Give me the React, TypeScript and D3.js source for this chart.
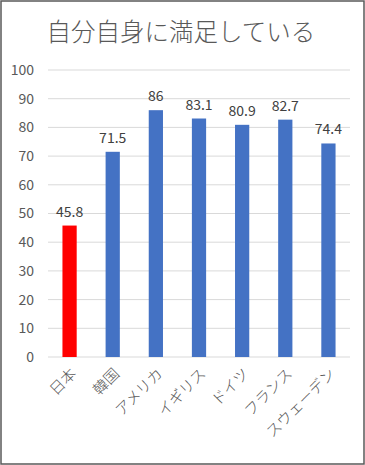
import { useEffect, useRef } from 'react';
import * as d3 from 'd3';

const countries = ['日本', '韓国', 'アメリカ', 'イギリス', 'ドイツ', 'フランス', 'スウェーデン'];
const values = [45.8, 71.5, 86, 83.1, 80.9, 82.7, 74.4];
const yTicks = [0, 10, 20, 30, 40, 50, 60, 70, 80, 90, 100];
const title = '自分自身に満足している';

const W = 365;
const H = 465;
const FONT = '"Noto Sans CJK JP", "Noto Sans", sans-serif';

export default function App() {
  const svgRef = useRef<SVGSVGElement>(null);

  useEffect(() => {
    document.body.style.margin = '0';
    if (!svgRef.current) return;
    const svg = d3.select(svgRef.current);
    svg.selectAll('*').remove();

    const margin = { top: 70, right: 15, bottom: 108, left: 48 };

    // outer frame
    svg.append('rect')
      .attr('x', 1).attr('y', 1)
      .attr('width', W - 2).attr('height', H - 2)
      .attr('fill', '#fff')
      .attr('stroke', '#595959')
      .attr('stroke-width', 1.5);

    svg.append('text')
      .attr('x', 181)
      .attr('y', 41)
      .attr('text-anchor', 'middle')
      .style('font-family', FONT)
      .style('font-size', '24.5px')
      .style('font-weight', 300)
      .style('fill', '#595959')
      .text(title);

    const x = d3.scaleBand()
      .domain(countries)
      .range([margin.left, W - margin.right])
      .paddingInner(0.67)
      .paddingOuter(0.335);

    const y = d3.scaleLinear()
      .domain([0, 100])
      .range([H - margin.bottom, margin.top]);

    const g = svg.append('g');

    // gridlines
    g.selectAll('line.grid')
      .data(yTicks)
      .join('line')
      .attr('class', 'grid')
      .attr('x1', margin.left)
      .attr('x2', W - margin.right)
      .attr('y1', d => y(d))
      .attr('y2', d => y(d))
      .attr('stroke', '#d9d9d9')
      .attr('stroke-width', 1);

    // y labels
    g.selectAll('text.ytick')
      .data(yTicks)
      .join('text')
      .attr('class', 'ytick')
      .attr('x', 34)
      .attr('y', d => y(d))
      .attr('dy', '0.35em')
      .attr('text-anchor', 'end')
      .style('font-family', FONT)
      .style('font-size', '14px')
      .style('fill', '#595959')
      .text(d => d);

    // bars
    g.selectAll('rect.bar')
      .data(values)
      .join('rect')
      .attr('class', 'bar')
      .attr('x', (d, i) => x(countries[i]) || 0)
      .attr('y', d => y(d))
      .attr('width', x.bandwidth())
      .attr('height', d => y(0) - y(d))
      .attr('fill', (d, i) => (i === 0 ? '#ff0000' : '#4472c4'));

    // value labels
    g.selectAll('text.val')
      .data(values)
      .join('text')
      .attr('class', 'val')
      .attr('x', (d, i) => (x(countries[i]) || 0) + x.bandwidth() / 2)
      .attr('y', d => y(d) - 9)
      .attr('text-anchor', 'middle')
      .style('font-family', FONT)
      .style('font-size', '14px')
      .style('fill', '#404040')
      .text(d => d);

    // category labels
    g.selectAll('text.cat')
      .data(countries)
      .join('text')
      .attr('class', 'cat')
      .attr('transform', d => `translate(${(x(d) || 0) + x.bandwidth() / 2 + 4},${y(0) + 14}) rotate(-45)`)
      .attr('text-anchor', 'end')
      .attr('dy', '0.35em')
      .style('font-family', FONT)
      .style('font-size', '15px')
      .style('font-weight', 300)
      .style('fill', '#595959')
      .text(d => d);
  }, []);

  return <svg ref={svgRef} width={W} height={H} style={{ display: 'block' }} />;
}
